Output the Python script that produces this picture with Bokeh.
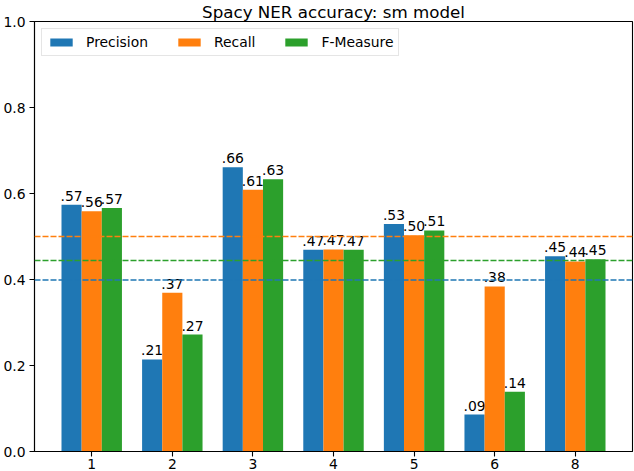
from bokeh.plotting import figure
from bokeh.models import ColumnDataSource, FixedTicker, Span, Range1d, NumeralTickFormatter
from bokeh.transform import dodge
from bokeh.embed import file_html
from bokeh.resources import INLINE
from bokeh.core.properties import value

categories = ["1", "2", "3", "4", "5", "6", "8"]
precision = [0.574, 0.214, 0.661, 0.469, 0.529, 0.086, 0.454]
recall = [0.559, 0.369, 0.609, 0.470, 0.503, 0.384, 0.442]
fmeasure = [0.566, 0.272, 0.633, 0.469, 0.514, 0.139, 0.447]
series_names = ["Precision", "Recall", "F-Measure"]
series_colors = ["#1f77b4", "#ff7f0e", "#2ca02c"]
mean_lines = [0.399, 0.500, 0.444]
y_ticks = [0.0, 0.2, 0.4, 0.6, 0.8, 1.0]
title_text = "Spacy NER accuracy: sm model"

FONT = "DejaVu Sans"
xs = list(range(len(categories)))
X0, X1 = -0.71, 6.71


def lab(v):
    return f"{v:.2f}"[1:]


p = figure(width=634, height=471, output_backend="svg", toolbar_location=None,
           x_range=Range1d(X0, X1), y_range=Range1d(0, 1), title=title_text)
p.min_border_left = 31
p.min_border_right = 2
p.min_border_top = 21
p.min_border_bottom = 20
p.background_fill_color = "white"
p.border_fill_color = "white"

bw = 0.25
for i, (name, vals, col) in enumerate(zip(series_names, [precision, recall, fmeasure], series_colors)):
    off = (i - 1) * bw
    src = ColumnDataSource(dict(x=xs, top=vals, label=[lab(v) for v in vals]))
    p.vbar(x=dodge("x", off), top="top", width=bw, source=src, fill_color=col,
           line_color=None, legend_label=name)
    p.text(x=dodge("x", off), y="top", text="label", source=src, text_align="center",
           text_baseline="alphabetic", y_offset=-9, text_font=value(FONT),
           text_font_size="13.9px", text_color="black")

for m, col in zip(mean_lines, series_colors):
    p.add_layout(Span(location=m, dimension="width", line_color=col,
                      line_dash="6 2", line_width=1.5))

p.xgrid.visible = False
p.ygrid.visible = False
p.outline_line_color = "black"
p.outline_line_width = 1.1
p.outline_line_alpha = 1.0

p.xaxis.ticker = FixedTicker(ticks=xs)
p.xaxis.major_label_overrides = {i: c for i, c in enumerate(categories)}
p.yaxis.ticker = FixedTicker(ticks=y_ticks)
p.yaxis.formatter = NumeralTickFormatter(format="0.0")
for ax in (p.xaxis[0], p.yaxis[0]):
    ax.axis_line_color = "black"
    ax.axis_line_width = 1.1
    ax.major_tick_line_color = "black"
    ax.major_tick_line_width = 1.1
    ax.major_tick_in = 0
    ax.major_tick_out = 5
    ax.minor_tick_line_color = None
    ax.major_label_text_font = FONT
    ax.major_label_text_font_size = "13.9px"
    ax.major_label_text_color = "black"
p.xaxis.major_label_standoff = 2
p.yaxis.major_label_standoff = 4

p.title.text_font = FONT
p.title.text_font_size = "16.7px"
p.title.text_font_style = "normal"
p.title.text_color = "black"
p.title.align = "center"
p.title.vertical_align = "middle"
p.title.standoff = -2

lg = p.legend[0]
lg.location = "top_left"
lg.orientation = "horizontal"
lg.margin = 7
lg.padding = 5
lg.spacing = 27
lg.label_standoff = 11
lg.glyph_width = 28
lg.glyph_height = 10
lg.label_height = 16
lg.label_text_font = FONT
lg.label_text_font_size = "13.9px"
lg.label_text_color = "black"
lg.border_line_color = "#cccccc"
lg.border_line_width = 1
lg.background_fill_alpha = 0.8

open("out.html", "w").write(file_html(p, INLINE))
